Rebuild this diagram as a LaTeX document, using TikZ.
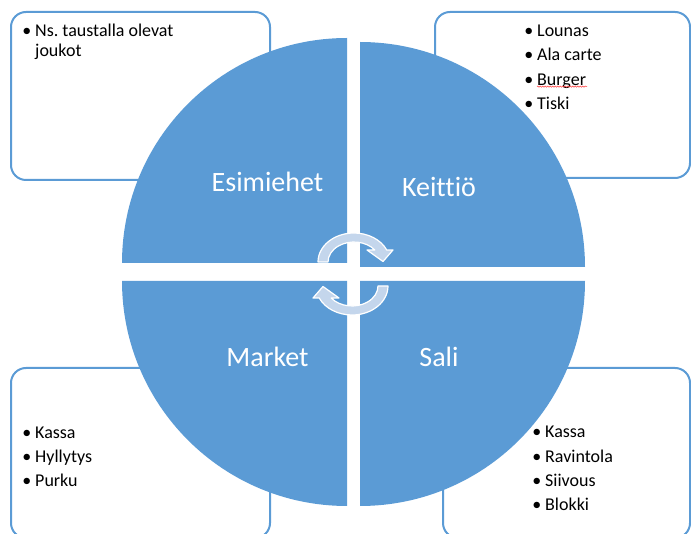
\documentclass[tikz,border=0pt]{standalone}
\usepackage{fontspec}
\setmainfont[Ligatures=NoCommon]{Carlito}
\usetikzlibrary{calc,decorations.pathmorphing}
\definecolor{smblue}{RGB}{91,155,213}
\definecolor{turnfill}{RGB}{196,214,236}
\newcommand\bul{\makebox[12.8pt][l]{\textbullet}}
\frenchspacing

\begin{document}
\begin{tikzpicture}[x=1pt,y=1pt]
\tikzset{box/.style={draw=smblue,line width=2pt,rounded corners=15pt},
  quad/.style={fill=smblue},
  lbl/.style={text=white,anchor=base,inner sep=0pt,font=\fontsize{28}{32}\selectfont},
  item/.style={anchor=base west,inner sep=0pt,font=\fontsize{18}{22}\selectfont},
  turn/.style={fill=turnfill,draw=white,line width=1.2pt,line join=round},
  spell/.style={draw=red!75,line width=0.5pt,decorate,decoration={snake,amplitude=0.6pt,segment length=2.5pt}}}
\useasboundingbox (0,0) rectangle (691,533);
\clip (0,0) rectangle (691,533);
\draw[box] (11,353) rectangle (270,521);
\draw[box] (435,355) rectangle (690,521);
\draw[box] (11,-5) rectangle (270,165);
\draw[box] (443,-5) rectangle (690,165);
\fill[quad] (347,270) -- ++(0,225) arc[start angle=90,end angle=180,radius=225] -- cycle;
\fill[quad] (360,266) -- ++(225,0) arc[start angle=0,end angle=90,radius=225] -- cycle;
\fill[quad] (347,252) -- ++(-225,0) arc[start angle=180,end angle=270,radius=225] -- cycle;
\fill[quad] (360,252) -- ++(0,-225) arc[start angle=270,end angle=360,radius=225] -- cycle;
\node[lbl] (esim) at (267.5,341) {Esimiehet};
\node[lbl] (keit) at (439,336) {Keittiö};
\node[lbl] (mark) at (267.5,166) {Market};
\node[lbl] (sali) at (439,166) {Sali};
\foreach \c/\r in {{(354,271)}/0,{(352,247)}/180}
\filldraw[turn,shift={\c},rotate=\r] (-36,0) arc[start angle=180,end angle=24.4,x radius=36,y radius=29]
  -- (39,12) -- (29,0.5) -- (13,12) -- (20.8,12)
  arc[start angle=36.9,end angle=180,x radius=26,y radius=20] -- cycle;
\node[item] (es1) at (22.2,496.3) {\bul Ns. taustalla olevat};
\node[item] (es2) at (35,476.3) {joukot};
\foreach \t [count=\i] in {Lounas,Ala carte,Burger,Tiski}
\node[item] (kt\i) at (524.2,{496.3-24.2*(\i-1)}) {\bul\t};
\draw[spell] ($(kt3.base west)+(12.8,-1.5)$) -- ++(50,0);
\foreach \t [count=\i] in {Kassa,Hyllytys,Purku}
\node[item] (mk\i) at (22.2,{94.7-24.2*(\i-1)}) {\bul\t};
\foreach \t [count=\i] in {Kassa,Ravintola,Siivous,Blokki}
\node[item] (sa\i) at (532.2,{95-24.2*(\i-1)}) {\bul\t};
\end{tikzpicture}
\end{document}
